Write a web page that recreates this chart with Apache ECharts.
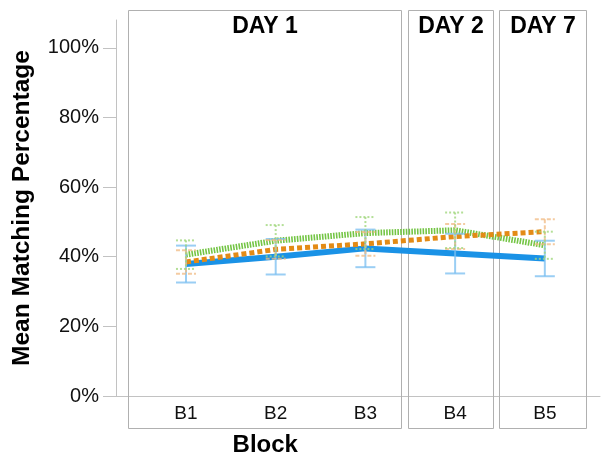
<!DOCTYPE html>
<html>
<head>
<meta charset="utf-8">
<script src="https://cdn.jsdelivr.net/npm/echarts@6/dist/echarts.min.js"></script>
<style>
  html, body { margin: 0; padding: 0; background: #fff; }
  #chart { width: 602px; height: 458px; }
</style>
</head>
<body>
<div id="chart"></div>
<script>
// Blocks along the x axis and the y-axis tick values (percent)
const blocks = ['B1', 'B2', 'B3', 'B4', 'B5'];
const yTicks = [0, 20, 40, 60, 80, 100];

// Session panels
const days = ['DAY 1', 'DAY 2', 'DAY 7'];

// Mean matching percentage per block, with error-bar half widths
const meanSolid = [37.9, 40.0, 42.4, 40.9, 39.5];
const errSolid = [5.3, 5.1, 5.4, 5.7, 5.1];
const meanDashed = [38.5, 42.1, 43.7, 45.8, 47.2];
const errDashed = [3.4, 2.7, 3.4, 3.6, 3.6];
const meanDotted = [40.6, 44.6, 46.8, 47.6, 43.3];
const errDotted = [4.1, 4.5, 4.6, 5.1, 3.9];

// Panel frame extents along the block axis (in block-index units)
const panelFrames = [[-0.65, 2.395], [2.48, 3.42], [3.49, 4.46]];

const FONT = "'Liberation Sans', Arial, sans-serif";
const AXIS_GREY = '#c2c2c2';

function lineSeries(name, mean, color, width, dash, z) {
  return {
    type: 'line', name: name, z: z,
    data: mean.map((m, i) => [i, m]),
    symbol: 'none',
    silent: true,
    lineStyle: { color: color, width: width, type: dash, cap: 'butt', join: 'miter' }
  };
}

function errorSeries(name, mean, err, color, dash) {
  return {
    type: 'custom', name: name, z: 6, silent: true,
    data: mean.map((m, i) => [i, m - err[i], m + err[i]]),
    encode: { x: 0, y: [1, 2] },
    renderItem: function (params, api) {
      const x = api.value(0);
      const lo = api.coord([x, api.value(1)]);
      const hi = api.coord([x, api.value(2)]);
      const hw = 10;
      const style = { stroke: color, lineWidth: 2, lineDash: dash, fill: null };
      return {
        type: 'group',
        children: [
          { type: 'line', shape: { x1: hi[0], y1: hi[1], x2: lo[0], y2: lo[1] }, style: style },
          { type: 'line', shape: { x1: hi[0] - hw, y1: hi[1], x2: hi[0] + hw, y2: hi[1] }, style: style },
          { type: 'line', shape: { x1: lo[0] - hw, y1: lo[1], x2: lo[0] + hw, y2: lo[1] }, style: style }
        ]
      };
    }
  };
}

const chart = echarts.init(document.getElementById('chart'), null, { renderer: 'canvas' });

chart.setOption({
  animation: false,
  backgroundColor: '#ffffff',
  grid: { left: 116, right: 2, top: 20, bottom: 62 },
  xAxis: {
    type: 'value',
    min: -0.78, max: 4.615,
    axisLine: { show: true, onZero: false, lineStyle: { color: AXIS_GREY, width: 1 } },
    axisTick: { show: false },
    splitLine: { show: false },
    axisLabel: {
      customValues: blocks.map((b, i) => i),
      formatter: v => blocks[Math.round(v)],
      margin: 8,
      fontSize: 19, fontFamily: FONT, color: '#111'
    }
  },
  yAxis: {
    type: 'value',
    min: 0, max: 108, interval: 20,
    name: 'Mean Matching Percentage',
    nameLocation: 'middle',
    nameGap: 81,
    nameTextStyle: { fontSize: 24.5, fontWeight: 'bold', fontFamily: FONT, color: '#000' },
    axisLine: { show: true, onZero: false, lineStyle: { color: AXIS_GREY, width: 1 } },
    axisTick: { show: true, length: 13, customValues: yTicks, lineStyle: { color: AXIS_GREY } },
    splitLine: { show: false },
    axisLabel: {
      customValues: yTicks,
      formatter: v => v + '%',
      margin: 17,
      fontSize: 20, fontFamily: FONT, color: '#111'
    }
  },
  series: [
    lineSeries('Condition 1', meanSolid, '#1a92e6', 6, 'solid', 3),
    lineSeries('Condition 3', meanDotted, '#74c545', 6, [1.6, 1.2], 4),
    lineSeries('Condition 2', meanDashed, '#e38b16', 5, [5, 3], 5),
    errorSeries('Condition 1 error', meanSolid, errSolid, 'rgba(120,190,240,0.75)', null),
    errorSeries('Condition 2 error', meanDashed, errDashed, 'rgba(240,185,130,0.75)', [4, 2]),
    errorSeries('Condition 3 error', meanDotted, errDotted, 'rgba(160,215,125,0.8)', [2, 2])
  ]
});

// Panel frames, day headers and the x-axis title, placed through the block axis
const toPx = v => chart.convertToPixel({ xAxisIndex: 0 }, v);
const frameTop = 10, frameBottom = 428;
const graphics = [];
panelFrames.forEach((f, k) => {
  const x0 = Math.round(toPx(f[0])) + 0.5;
  const x1 = Math.round(toPx(f[1])) + 0.5;
  graphics.push({
    type: 'rect', silent: true, z: 1,
    shape: { x: x0, y: frameTop + 0.5, width: x1 - x0, height: frameBottom - frameTop },
    style: { fill: null, stroke: '#b0b0b0', lineWidth: 1 }
  });
  graphics.push({
    type: 'text', silent: true, z: 10,
    x: (x0 + x1) / 2, y: 27,
    style: {
      text: days[k], fill: '#000', align: 'center', verticalAlign: 'middle',
      font: "bold 23px " + FONT
    }
  });
});
{
  const x0 = toPx(panelFrames[0][0]);
  const x1 = toPx(panelFrames[0][1]);
  graphics.push({
    type: 'text', silent: true, z: 10,
    x: (x0 + x1) / 2 + 1, y: 445,
    style: {
      text: 'Block', fill: '#000', align: 'center', verticalAlign: 'middle',
      font: "bold 24px " + FONT
    }
  });
}
chart.setOption({ graphic: graphics });
</script>
</body>
</html>
